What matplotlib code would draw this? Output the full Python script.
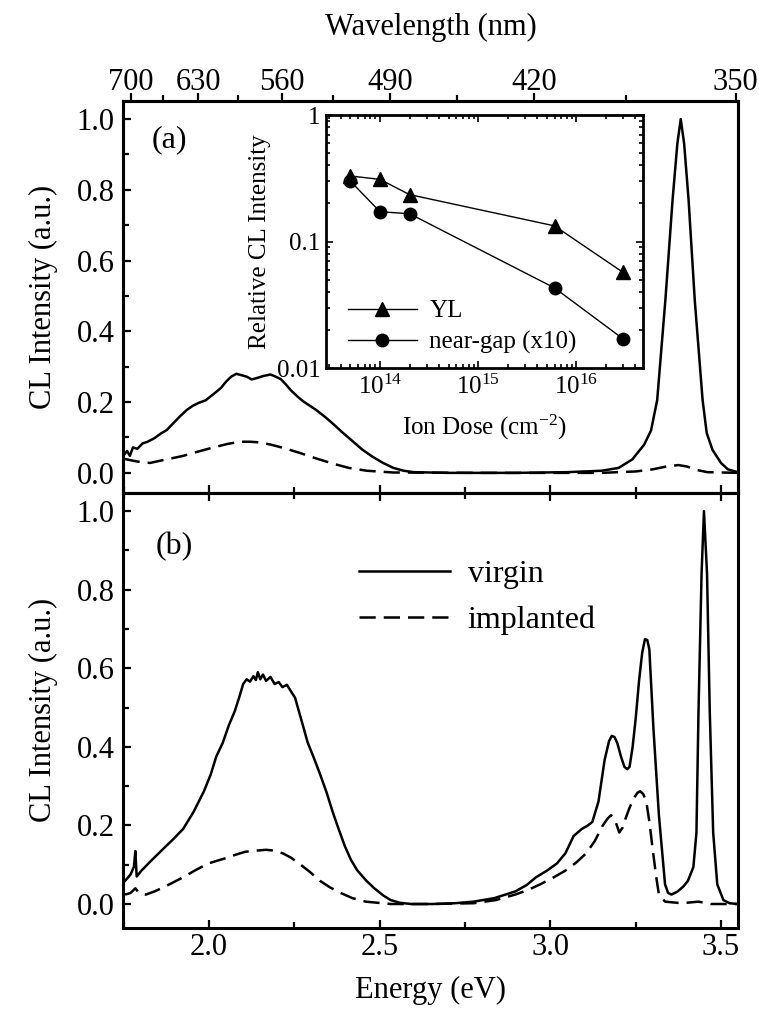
import numpy as np
import matplotlib
matplotlib.use("Agg")
import matplotlib.pyplot as plt
from matplotlib.ticker import MultipleLocator, FixedLocator, FixedFormatter, LogLocator, NullFormatter

plt.rcParams['font.family'] = ['Liberation Serif', 'DejaVu Serif']
plt.rcParams['mathtext.fontset'] = 'custom'
plt.rcParams['mathtext.rm'] = 'Liberation Serif'
plt.rcParams['mathtext.it'] = 'Liberation Serif:italic'

# ---- panel (a): spectra ----
e_a_virgin = [1.750, 1.760, 1.768, 1.777, 1.790, 1.805, 1.820, 1.840, 1.860, 1.876,
              1.895, 1.915, 1.935, 1.953, 1.970, 1.990, 2.003, 2.020, 2.035, 2.050,
              2.065, 2.080, 2.095, 2.110, 2.125, 2.140, 2.160, 2.180, 2.195, 2.210,
              2.225, 2.240, 2.260, 2.276, 2.295, 2.315, 2.340, 2.364, 2.390, 2.420,
              2.450, 2.480, 2.510, 2.540, 2.570, 2.600, 2.700, 2.900, 3.050, 3.150,
              3.200, 3.240, 3.275, 3.295, 3.313, 3.337, 3.358, 3.372, 3.382, 3.392,
              3.405, 3.423, 3.446, 3.458, 3.475, 3.500, 3.520, 3.549]
i_a_virgin = [0.050, 0.062, 0.048, 0.072, 0.068, 0.083, 0.088, 0.098, 0.112, 0.121,
              0.140, 0.160, 0.178, 0.190, 0.198, 0.205, 0.215, 0.228, 0.240, 0.258,
              0.272, 0.280, 0.276, 0.272, 0.264, 0.268, 0.274, 0.278, 0.272, 0.265,
              0.250, 0.233, 0.215, 0.202, 0.190, 0.177, 0.158, 0.138, 0.115, 0.090,
              0.065, 0.045, 0.028, 0.014, 0.006, 0.002, 0.000, 0.000, 0.002, 0.006,
              0.014, 0.038, 0.080, 0.120, 0.206, 0.489, 0.771, 0.930, 1.000, 0.930,
              0.771, 0.489, 0.206, 0.113, 0.065, 0.028, 0.010, 0.002]

e_a_impl = [1.750, 1.769, 1.790, 1.827, 1.860, 1.895, 1.924, 1.960, 1.990, 2.022,
            2.055, 2.091, 2.120, 2.150, 2.180, 2.220, 2.267, 2.310, 2.363, 2.410,
            2.462, 2.540, 2.800, 3.150, 3.250, 3.300, 3.340, 3.375, 3.400, 3.430,
            3.460, 3.549]
i_a_impl = [0.040, 0.036, 0.032, 0.028, 0.035, 0.042, 0.048, 0.058, 0.066, 0.074,
            0.082, 0.088, 0.088, 0.086, 0.080, 0.070, 0.056, 0.042, 0.026, 0.014,
            0.006, 0.001, 0.000, 0.000, 0.004, 0.010, 0.018, 0.022, 0.018, 0.008,
            0.002, 0.000]

# ---- panel (b) ----
e_b_virgin = [1.754, 1.770, 1.780, 1.784, 1.788, 1.802, 1.830, 1.863, 1.895, 1.924,
              1.955, 1.985, 2.005, 2.021, 2.040, 2.058, 2.075, 2.088, 2.100, 2.110,
              2.120, 2.130, 2.137, 2.143, 2.150, 2.158, 2.167, 2.180, 2.192, 2.204,
              2.215, 2.228, 2.241, 2.252, 2.270, 2.289, 2.307, 2.325, 2.344, 2.362,
              2.380, 2.398, 2.416, 2.434, 2.460, 2.483, 2.510, 2.532, 2.560, 2.593,
              2.654, 2.720, 2.775, 2.836, 2.897, 2.930, 2.958, 2.990, 3.019, 3.044,
              3.068, 3.092, 3.110, 3.123, 3.141, 3.159, 3.172, 3.180, 3.188, 3.196,
              3.207, 3.217, 3.225, 3.232, 3.241, 3.250, 3.260, 3.269, 3.277, 3.284,
              3.290, 3.302, 3.318, 3.336, 3.345, 3.355, 3.373, 3.390, 3.403, 3.419,
              3.428, 3.434, 3.443, 3.450, 3.459, 3.467, 3.477, 3.489, 3.507, 3.525,
              3.549]
i_b_virgin = [0.059, 0.075, 0.095, 0.135, 0.070, 0.085, 0.110, 0.138, 0.165, 0.191,
              0.235, 0.287, 0.330, 0.375, 0.410, 0.455, 0.490, 0.525, 0.560, 0.572,
              0.566, 0.580, 0.570, 0.590, 0.572, 0.584, 0.568, 0.578, 0.560, 0.565,
              0.552, 0.558, 0.540, 0.525, 0.470, 0.411, 0.372, 0.331, 0.285, 0.235,
              0.190, 0.147, 0.112, 0.086, 0.060, 0.041, 0.022, 0.010, 0.003, 0.000,
              0.000, 0.002, 0.006, 0.015, 0.032, 0.048, 0.068, 0.085, 0.103, 0.129,
              0.173, 0.191, 0.200, 0.209, 0.261, 0.367, 0.415, 0.428, 0.425, 0.410,
              0.375, 0.349, 0.343, 0.349, 0.400, 0.472, 0.570, 0.639, 0.674, 0.672,
              0.648, 0.446, 0.226, 0.050, 0.028, 0.024, 0.032, 0.045, 0.059, 0.094,
              0.182, 0.490, 0.841, 1.000, 0.841, 0.490, 0.182, 0.050, 0.010, 0.002,
              0.000]

e_b_impl = [1.754, 1.770, 1.784, 1.795, 1.815, 1.840, 1.863, 1.895, 1.924, 1.960,
            1.997, 2.046, 2.080, 2.106, 2.140, 2.167, 2.190, 2.216, 2.240, 2.264,
            2.295, 2.325, 2.355, 2.386, 2.420, 2.459, 2.532, 2.650, 2.775, 2.840,
            2.897, 2.935, 2.970, 3.010, 3.044, 3.075, 3.105, 3.130, 3.153, 3.168,
            3.178, 3.190, 3.202, 3.212, 3.220, 3.232, 3.245, 3.255, 3.263, 3.272,
            3.281, 3.290, 3.300, 3.310, 3.318, 3.336, 3.385, 3.434, 3.470, 3.549]
i_b_impl = [0.024, 0.028, 0.040, 0.028, 0.024, 0.032, 0.041, 0.055, 0.068, 0.086,
            0.103, 0.116, 0.126, 0.133, 0.136, 0.138, 0.136, 0.129, 0.118, 0.103,
            0.082, 0.059, 0.042, 0.028, 0.015, 0.006, 0.000, 0.000, 0.002, 0.010,
            0.024, 0.036, 0.050, 0.068, 0.085, 0.105, 0.129, 0.160, 0.199, 0.218,
            0.226, 0.212, 0.182, 0.195, 0.217, 0.245, 0.270, 0.283, 0.287, 0.280,
            0.261, 0.210, 0.138, 0.070, 0.024, 0.006, 0.002, 0.006, 0.000, 0.000]

# ---- inset: relative intensity vs ion dose ----
dose = [5e13, 1e14, 2e14, 6e15, 3e16]
rel_yl = [0.33, 0.31, 0.235, 0.133, 0.057]
rel_gap = [0.30, 0.172, 0.166, 0.043, 0.017]

wl_major = [700, 630, 560, 490, 420, 350]
wl_minor = [665, 595, 525, 455, 385]

FS = 22
FS_IN = 18
lw = 1.8
dash = (0, (6.5, 3.2))
xlim = (1.748, 3.549)

fig = plt.figure(figsize=(7.59, 10.10), dpi=100)
ax_a = fig.add_axes([0.1621, 0.5122, 0.8099, 0.3878])
ax_b = fig.add_axes([0.1621, 0.0816, 0.8099, 0.4306])

ax_a.plot(e_a_virgin, i_a_virgin, color='black', lw=lw)
ax_a.plot(e_a_impl, i_a_impl, color='black', lw=lw, linestyle=dash)
ax_b.plot(e_b_virgin, i_b_virgin, color='black', lw=lw, label='virgin')
ax_b.plot(e_b_impl, i_b_impl, color='black', lw=lw, linestyle=dash, label='implanted')

ax_a.set_ylim(-0.056, 1.051)
ax_b.set_ylim(-0.06, 1.047)

for ax in (ax_a, ax_b):
    ax.set_xlim(*xlim)
    ax.xaxis.set_major_locator(MultipleLocator(0.5))
    ax.xaxis.set_minor_locator(MultipleLocator(0.25))
    ax.yaxis.set_major_locator(MultipleLocator(0.2))
    ax.yaxis.set_minor_locator(MultipleLocator(0.1))
    ax.yaxis.set_major_formatter(plt.FormatStrFormatter('%.1f'))
    ax.xaxis.set_major_formatter(plt.FormatStrFormatter('%.1f'))
    for s in ax.spines.values():
        s.set_linewidth(2.2)
    ax.tick_params(which='both', direction='in', width=1.6, labelsize=FS, pad=6)
    ax.tick_params(which='major', length=6)
    ax.tick_params(which='minor', length=4)
    ax.set_ylabel('CL Intensity (a.u.)', fontsize=FS, va='center')
    ax.yaxis.set_label_coords(-0.13, 0.5)

ax_a.tick_params(axis='x', which='both', bottom=True, top=False, labelbottom=False)
ax_a.tick_params(axis='y', which='both', left=True, right=False)
ax_b.tick_params(axis='x', which='both', bottom=True, top=True, labelbottom=True)
ax_b.tick_params(axis='y', which='both', left=True, right=False)
ax_b.tick_params(axis='x', which='major', pad=4)

ax_b.set_xlabel('Energy (eV)', fontsize=FS, va='center')
ax_b.xaxis.set_label_coords(0.5, -0.1435)

# top wavelength axis
ax_top = ax_a.twiny()
ax_top.set_xlim(*xlim)
ax_top.xaxis.set_major_locator(FixedLocator([1240.0 / w for w in wl_major]))
ax_top.xaxis.set_major_formatter(FixedFormatter([str(w) for w in wl_major]))
ax_top.xaxis.set_minor_locator(FixedLocator([1240.0 / w for w in wl_minor]))
ax_top.tick_params(which='both', direction='out', width=1.6, labelsize=FS, pad=-3)
ax_top.tick_params(which='major', length=6)
ax_top.tick_params(which='minor', length=4)
ax_top.set_xlabel('Wavelength (nm)', fontsize=FS, va='center')
ax_top.xaxis.set_label_coords(0.5, 1.189)
for s in ax_top.spines.values():
    s.set_linewidth(2.2)

ax_a.text(0.075, 0.90, '(a)', transform=ax_a.transAxes, fontsize=FS + 1,
          ha='center', va='center')
ax_b.text(0.084, 0.877, '(b)', transform=ax_b.transAxes, fontsize=FS + 1,
          ha='center', va='center')

ax_b.legend(loc='upper left', bbox_to_anchor=(0.384, 0.845), frameon=False,
            fontsize=FS + 1, handlelength=2.85, handletextpad=0.55,
            labelspacing=0.5, borderpad=0, borderaxespad=0)

# inset
ax_in = fig.add_axes([0.4295, 0.6356, 0.4177, 0.2505])
ax_in.plot(dose, rel_yl, color='black', lw=1.0, marker='^', markersize=10, label='YL')
ax_in.plot(dose, rel_gap, color='black', lw=1.0, marker='o', markersize=9,
           label='near-gap (x10)')
ax_in.set_xscale('log')
ax_in.set_yscale('log')
ax_in.set_xlim(10 ** 13.45, 10 ** 16.68)
ax_in.set_ylim(0.01, 1)
ax_in.xaxis.set_major_locator(FixedLocator([1e14, 1e15, 1e16]))
ax_in.xaxis.set_major_formatter(FixedFormatter([r'$10^{14}$', r'$10^{15}$', r'$10^{16}$']))
ax_in.xaxis.set_minor_locator(LogLocator(base=10, subs=np.arange(2, 10), numticks=20))
ax_in.xaxis.set_minor_formatter(NullFormatter())
ax_in.yaxis.set_major_locator(FixedLocator([0.01, 0.1, 1]))
ax_in.yaxis.set_major_formatter(FixedFormatter(['0.01', '0.1', '1']))
ax_in.yaxis.set_minor_locator(LogLocator(base=10, subs=np.arange(2, 10), numticks=20))
ax_in.yaxis.set_minor_formatter(NullFormatter())
ax_in.tick_params(which='both', direction='in', top=True, right=True, width=1.2,
                  labelsize=FS_IN)
ax_in.tick_params(which='major', length=5)
ax_in.tick_params(which='minor', length=3)
ax_in.tick_params(axis='y', pad=4)
ax_in.tick_params(axis='x', pad=5)
for s in ax_in.spines.values():
    s.set_linewidth(2.0)
ax_in.set_ylabel('Relative CL Intensity', fontsize=FS_IN, va='center')
ax_in.yaxis.set_label_coords(-0.208, 0.5)
ax_in.set_xlabel('Ion Dose (cm$^{-2}$)', fontsize=FS_IN, va='center')
ax_in.xaxis.set_label_coords(0.5, -0.233)
ax_in.legend(loc='lower left', bbox_to_anchor=(0.069, 0.055), frameon=False,
             fontsize=FS_IN, handlelength=2.76, handletextpad=0.5,
             labelspacing=0.35, borderpad=0, borderaxespad=0)

fig.savefig('out.png', dpi=100)
